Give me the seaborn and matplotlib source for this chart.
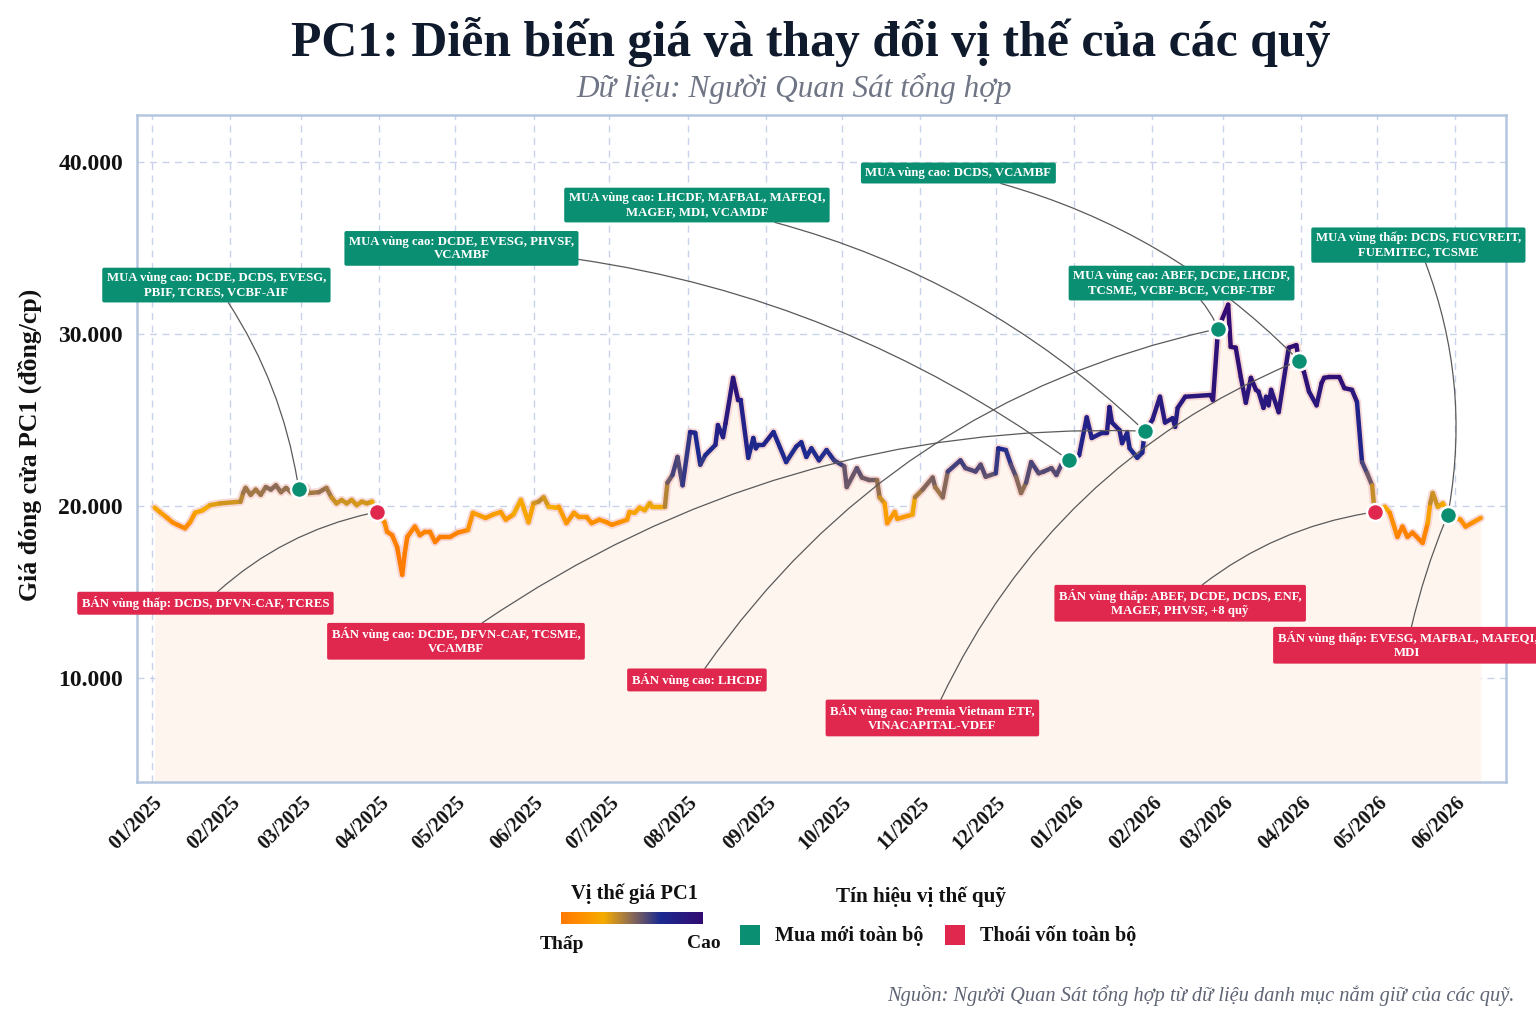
import numpy as np
import pandas as pd
import matplotlib
matplotlib.use("Agg")
import matplotlib.pyplot as plt
import matplotlib.dates as mdates
from matplotlib.collections import LineCollection
from matplotlib.colors import LinearSegmentedColormap
from matplotlib.patches import Rectangle
from matplotlib.ticker import FuncFormatter, FixedLocator
import seaborn as sns

# ---------------- data ----------------
dates = [
    "2025-01-02", "2025-01-04", "2025-01-07", "2025-01-09", "2025-01-11", "2025-01-14", "2025-01-16", "2025-01-18",
    "2025-01-21", "2025-01-24", "2025-01-28", "2025-02-05", "2025-02-06", "2025-02-07", "2025-02-09", "2025-02-11",
    "2025-02-13", "2025-02-15", "2025-02-17", "2025-02-19", "2025-02-21", "2025-02-23", "2025-02-25", "2025-02-28",
    "2025-03-03", "2025-03-04", "2025-03-08", "2025-03-11", "2025-03-13", "2025-03-15", "2025-03-17", "2025-03-19",
    "2025-03-21", "2025-03-23", "2025-03-25", "2025-03-27", "2025-03-29", "2025-03-31", "2025-04-03", "2025-04-04",
    "2025-04-06", "2025-04-08", "2025-04-10", "2025-04-11", "2025-04-12", "2025-04-15", "2025-04-17", "2025-04-19",
    "2025-04-21", "2025-04-23", "2025-04-25", "2025-04-29", "2025-05-02", "2025-05-06", "2025-05-08", "2025-05-13",
    "2025-05-16", "2025-05-19", "2025-05-21", "2025-05-24", "2025-05-27", "2025-05-30", "2025-06-01", "2025-06-03",
    "2025-06-05", "2025-06-07", "2025-06-10", "2025-06-11", "2025-06-14", "2025-06-17", "2025-06-19", "2025-06-22",
    "2025-06-24", "2025-06-27", "2025-06-30", "2025-07-02", "2025-07-05", "2025-07-08", "2025-07-09", "2025-07-11",
    "2025-07-13", "2025-07-15", "2025-07-17", "2025-07-18", "2025-07-21", "2025-07-23", "2025-07-24", "2025-07-26",
    "2025-07-28", "2025-07-30", "2025-08-02", "2025-08-04", "2025-08-06", "2025-08-08", "2025-08-12", "2025-08-13",
    "2025-08-15", "2025-08-16", "2025-08-19", "2025-08-21", "2025-08-22", "2025-08-25", "2025-08-27", "2025-08-28",
    "2025-08-29", "2025-08-31", "2025-09-04", "2025-09-09", "2025-09-13", "2025-09-15", "2025-09-17", "2025-09-19",
    "2025-09-22", "2025-09-25", "2025-09-28", "2025-10-02", "2025-10-03", "2025-10-07", "2025-10-09", "2025-10-12",
    "2025-10-15", "2025-10-16", "2025-10-18", "2025-10-19", "2025-10-22", "2025-10-23", "2025-10-29", "2025-10-30",
    "2025-11-02", "2025-11-06", "2025-11-07", "2025-11-10", "2025-11-12", "2025-11-17", "2025-11-19", "2025-11-23",
    "2025-11-25", "2025-11-27", "2025-12-01", "2025-12-02", "2025-12-05", "2025-12-07", "2025-12-09", "2025-12-11",
    "2025-12-13", "2025-12-15", "2025-12-18", "2025-12-20", "2025-12-23", "2025-12-25", "2025-12-27", "2025-12-30",
    "2026-01-03", "2026-01-06", "2026-01-08", "2026-01-12", "2026-01-14", "2026-01-15", "2026-01-16", "2026-01-19",
    "2026-01-20", "2026-01-22", "2026-01-23", "2026-01-26", "2026-01-28", "2026-01-29", "2026-02-01", "2026-02-04",
    "2026-02-06", "2026-02-09", "2026-02-10", "2026-02-11", "2026-02-14", "2026-02-24", "2026-02-25", "2026-02-27",
    "2026-03-03", "2026-03-04", "2026-03-06", "2026-03-08", "2026-03-10", "2026-03-12", "2026-03-14", "2026-03-15",
    "2026-03-17", "2026-03-18", "2026-03-19", "2026-03-20", "2026-03-23", "2026-03-27", "2026-03-30", "2026-03-31",
    "2026-04-02", "2026-04-04", "2026-04-07", "2026-04-09", "2026-04-10", "2026-04-12", "2026-04-16", "2026-04-18",
    "2026-04-21", "2026-04-23", "2026-04-25", "2026-04-27", "2026-04-29", "2026-04-30", "2026-05-04", "2026-05-06",
    "2026-05-09", "2026-05-11", "2026-05-13", "2026-05-15", "2026-05-19", "2026-05-21", "2026-05-22", "2026-05-23",
    "2026-05-25", "2026-05-27", "2026-05-29", "2026-06-03", "2026-06-05", "2026-06-08", "2026-06-11",
]
prices = [
    19900, 19650, 19300, 19050, 18900, 18700, 19050, 19600,
    19750, 20050, 20150, 20250, 20750, 21050, 20650, 20950,
    20650, 21100, 20950, 21200, 20800, 21050, 20800, 21000,
    21100, 20750, 20800, 21050, 20500, 20150, 20350, 20150,
    20350, 20050, 20250, 20150, 20250, 19650, 19050, 18500,
    18300, 17600, 16000, 17250, 18200, 18800, 18300, 18500,
    18500, 17900, 18200, 18200, 18450, 18600, 19600, 19300,
    19500, 19650, 19200, 19500, 20350, 19050, 20150, 20250,
    20500, 19950, 19900, 19950, 19000, 19600, 19350, 19350,
    19000, 19200, 19050, 18900, 19050, 19200, 19650, 19600,
    19900, 19750, 20150, 19950, 19950, 19950, 21350, 21800,
    22850, 21200, 24300, 24250, 22400, 22950, 23550, 24700,
    24000, 24800, 27450, 26150, 26150, 22800, 23950, 23350,
    23550, 23550, 24300, 22550, 23450, 23700, 22850, 23350,
    22650, 23250, 22650, 22300, 21100, 22200, 21650, 21500,
    21500, 20500, 20150, 19000, 19650, 19250, 19500, 20500,
    20950, 21650, 21100, 20500, 22000, 22650, 22200, 22000,
    22400, 21700, 21900, 23350, 23250, 22400, 21700, 20750,
    21350, 22550, 21900, 22000, 22200, 21800, 22400, 22650,
    22950, 25150, 23950, 24250, 24250, 25750, 24850, 24400,
    23650, 24250, 23350, 22800, 23100, 24350, 25000, 26350,
    24850, 25100, 24600, 25700, 26350, 26450, 26150, 30300,
    31700, 29250, 29200, 27500, 26000, 27450, 26750, 26650,
    25700, 26350, 25850, 26750, 25450, 29200, 29350, 28450,
    27800, 26650, 25850, 27150, 27450, 27500, 27500, 26850,
    26750, 26050, 22550, 21900, 21200, 19650, 19950, 19600,
    18200, 18800, 18200, 18450, 17850, 19000, 20150, 20750,
    19950, 20150, 19500, 19200, 18800, 19050, 19300,
]

buy_dates = ["2025-02-28", "2025-12-30", "2026-01-29", "2026-02-27", "2026-03-31", "2026-05-29"]
sell_dates = ["2025-03-31", "2026-01-29", "2026-02-27", "2026-03-31", "2026-04-30", "2026-05-29"]

ann_dates = ["2025-02-28", "2025-03-31", "2025-12-30", "2026-01-29", "2026-03-31", "2026-02-27",
             "2026-05-29", "2026-01-29", "2026-02-27", "2026-03-31", "2026-04-30", "2026-05-29"]
ann_kind = ["MUA", "BÁN", "MUA", "MUA", "MUA", "MUA", "MUA", "BÁN", "BÁN", "BÁN", "BÁN", "BÁN"]
ann_text = [
    "MUA vùng cao: DCDE, DCDS, EVESG,\nPBIF, TCRES, VCBF-AIF",
    "BÁN vùng thấp: DCDS, DFVN-CAF, TCRES",
    "MUA vùng cao: DCDE, EVESG, PHVSF,\nVCAMBF",
    "MUA vùng cao: LHCDF, MAFBAL, MAFEQI,\nMAGEF, MDI, VCAMDF",
    "MUA vùng cao: DCDS, VCAMBF",
    "MUA vùng cao: ABEF, DCDE, LHCDF,\nTCSME, VCBF-BCE, VCBF-TBF",
    "MUA vùng thấp: DCDS, FUCVREIT,\nFUEMITEC, TCSME",
    "BÁN vùng cao: DCDE, DFVN-CAF, TCSME,\nVCAMBF",
    "BÁN vùng cao: LHCDF",
    "BÁN vùng cao: Premia Vietnam ETF,\nVINACAPITAL-VDEF",
    "BÁN vùng thấp: ABEF, DCDE, DCDS, ENF,\nMAGEF, PHVSF, +8 quỹ",
    "BÁN vùng thấp: EVESG, MAFBAL, MAFEQI,\nMDI",
]

# ---------------- layout (label positions in axes fraction) ----------------
ann_pos = [(0.058, 0.745), (0.050, 0.268), (0.237, 0.800), (0.409, 0.865), (0.600, 0.913), (0.763, 0.748),
           (0.936, 0.805), (0.233, 0.211), (0.409, 0.153), (0.581, 0.096), (0.762, 0.268), (0.928, 0.205)]
ann_rad = [-0.12, -0.15, -0.15, -0.15, -0.15, -0.15, -0.15, -0.17, -0.2, -0.2, -0.15, -0.05]

GREEN = "#0b8f73"
RED = "#e0284f"
SERIF = ["Liberation Serif", "DejaVu Serif"]
INK = "#111111"

sns.set_theme(style="white")
plt.rcParams["font.family"] = SERIF

df = pd.DataFrame({"date": pd.to_datetime(dates), "price": prices})
df["pos"] = df["price"].rank(pct=True)
price_at = dict(zip(df["date"], df["price"]))

cmap = LinearSegmentedColormap.from_list(
    "pos", [(0.0, "#ff7a00"), (0.12, "#ff8c00"), (0.3, "#f6ac00"), (0.5, "#8a6a58"),
            (0.7, "#1c2a90"), (1.0, "#320c72")])

fig = plt.figure(figsize=(15.36, 10.24), dpi=100)
ax = fig.add_axes([137 / 1536, 1 - 782 / 1024, 1369 / 1536, 667 / 1024])

ymin, ymax = 3950, 42730
ax.set_ylim(ymin, ymax)
ax.set_xlim(pd.Timestamp("2024-12-26"), pd.Timestamp("2026-06-21"))

# fill under price
ax.fill_between(df["date"], df["price"], ymin, color="#fef5ef", zorder=1, lw=0)

# halo line
sns.lineplot(data=df, x="date", y="price", ax=ax, color="#f4cdca", lw=6.0, alpha=0.75, zorder=2)

# colored segments
xn = mdates.date2num(df["date"])
pts = np.column_stack([xn, df["price"].values])
segs = np.stack([pts[:-1], pts[1:]], axis=1)
segpos = (df["pos"].values[:-1] + df["pos"].values[1:]) / 2
lc = LineCollection(segs, colors=cmap(segpos), linewidths=3.2, capstyle="round", joinstyle="round", zorder=3)
ax.add_collection(lc)

# annotations
for d, k, t, p, r in zip(ann_dates, ann_kind, ann_text, ann_pos, ann_rad):
    dt = pd.Timestamp(d)
    col = GREEN if k == "MUA" else RED
    ax.annotate(t, xy=(dt, price_at[dt]), xycoords="data", xytext=p, textcoords="axes fraction",
                ha="center", va="center", multialignment="center", fontsize=9.2, fontweight="bold",
                color="white", zorder=5, annotation_clip=False,
                bbox=dict(boxstyle="round,pad=0.35,rounding_size=0.15", fc=col, ec="none"),
                arrowprops=dict(arrowstyle="-", color="#5a5a5a", lw=0.9, shrinkA=0, shrinkB=5,
                                connectionstyle=f"arc3,rad={r}"))

# markers
sdf = pd.DataFrame({"date": pd.to_datetime(sell_dates)})
sdf["price"] = sdf["date"].map(price_at)
bdf = pd.DataFrame({"date": pd.to_datetime(buy_dates)})
bdf["price"] = bdf["date"].map(price_at)
sns.scatterplot(data=sdf, x="date", y="price", ax=ax, color=RED, s=150, edgecolor="white", linewidth=1.8, zorder=6)
sns.scatterplot(data=bdf, x="date", y="price", ax=ax, color=GREEN, s=150, edgecolor="white", linewidth=1.8, zorder=7)

# axes styling
ax.xaxis.set_major_locator(mdates.MonthLocator())
ax.xaxis.set_major_formatter(mdates.DateFormatter("%m/%Y"))
ax.yaxis.set_major_locator(FixedLocator([10000, 20000, 30000, 40000]))
ax.yaxis.set_major_formatter(FuncFormatter(lambda v, _: f"{int(v):,}".replace(",", ".")))
ax.grid(True, color="#c7d3ea", linestyle=(0, (5, 4)), lw=1.0)
ax.set_axisbelow(True)
for s in ax.spines.values():
    s.set_color("#b4c6df")
    s.set_linewidth(1.8)
ax.tick_params(axis="x", length=5, color="#b4c6df", width=1.2, labelsize=14.5, rotation=45, pad=3)
ax.tick_params(axis="y", length=5, color="#b4c6df", width=1.2, labelsize=17, pad=5)
for lab in ax.get_xticklabels():
    lab.set_ha("right")
    lab.set_rotation_mode("anchor")
    lab.set_fontweight("bold")
    lab.set_color(INK)
for lab in ax.get_yticklabels():
    lab.set_fontweight("bold")
    lab.set_color(INK)
ax.set_xlabel("")
ax.set_ylabel("")

# titles
fig.text(0.528, 1 - 42 / 1024, "PC1: Diễn biến giá và thay đổi vị thế của các quỹ", ha="center", va="center",
         fontsize=35.8, fontweight="bold", color="#0f1a2c")
fig.text(0.517, 1 - 88 / 1024, "Dữ liệu: Người Quan Sát tổng hợp", ha="center", va="center",
         fontsize=22.5, style="italic", color="#6f7585")
fig.text(30 / 1536, 1 - 445 / 1024, "Giá đóng cửa PC1 (đồng/cp)", rotation=90, ha="center", va="center",
         fontsize=18.5, fontweight="bold", color=INK)
fig.text(1515 / 1536, 1 - 995 / 1024, "Nguồn: Người Quan Sát tổng hợp từ dữ liệu danh mục nắm giữ của các quỹ.",
         ha="right", va="center", fontsize=14.7, style="italic", color="#5f6575")

# legend: colour gradient
fig.text(634 / 1536, 1 - 894 / 1024, "Vị thế giá PC1", ha="center", va="center", fontsize=14.8,
         fontweight="bold", color=INK)
cax = fig.add_axes([561 / 1536, 1 - 924 / 1024, 142 / 1536, 12 / 1024])
cax.imshow(np.linspace(0, 1, 256)[None, :], aspect="auto", cmap=cmap)
cax.set_axis_off()
fig.text(562 / 1536, 1 - 944 / 1024, "Thấp", ha="center", va="center", fontsize=14, fontweight="bold", color=INK)
fig.text(704 / 1536, 1 - 944 / 1024, "Cao", ha="center", va="center", fontsize=14, fontweight="bold", color=INK)

# legend: signals
fig.text(921 / 1536, 1 - 897 / 1024, "Tín hiệu vị thế quỹ", ha="center", va="center", fontsize=15.2,
         fontweight="bold", color=INK)
sig_labels = ["Mua mới toàn bộ", "Thoái vốn toàn bộ"]
sig_colors = [GREEN, RED]
sig_x = [740, 945]
for lbl, col, x0 in zip(sig_labels, sig_colors, sig_x):
    fig.add_artist(Rectangle((x0 / 1536, 1 - 945 / 1024), 20 / 1536, 20 / 1024, transform=fig.transFigure,
                             facecolor=col, edgecolor="none"))
    fig.text((x0 + 35) / 1536, 1 - 936 / 1024, lbl, ha="left", va="center", fontsize=14.5,
             fontweight="bold", color=INK)

fig.savefig("out.png", dpi=100, facecolor="white")
